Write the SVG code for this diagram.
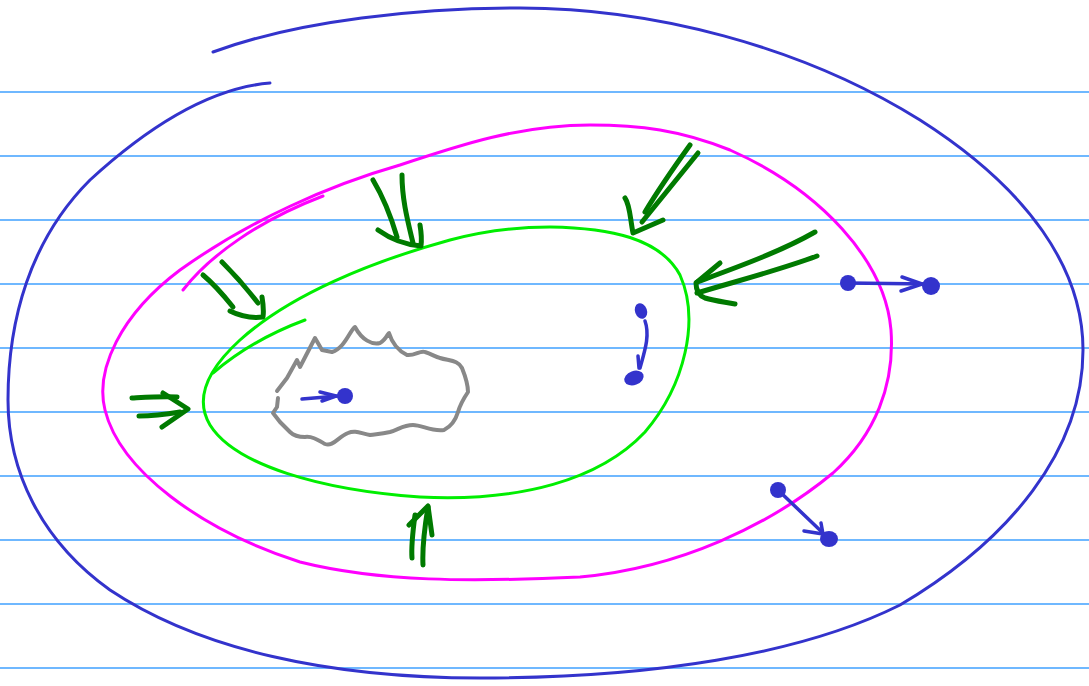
<svg xmlns="http://www.w3.org/2000/svg" width="1089" height="686" viewBox="0 0 1089 686">
  <style>
    .rule { stroke: #3fa0ff; stroke-width: 1.5; }
    .ink { fill: none; stroke-linecap: round; stroke-linejoin: round; }
    .blue { stroke: #3333cc; stroke-width: 3; }
    .mag { stroke: #ff00ff; stroke-width: 3; }
    .lime { stroke: #00ee00; stroke-width: 3; }
    .grey { stroke: #888888; stroke-width: 4; }
    .push { stroke: #007a00; stroke-width: 5; }
    .dot { fill: #3333cc; }
    .flow { stroke: #3333cc; stroke-width: 3.5; }
  </style>
  <rect width="1089" height="686" fill="#ffffff"/>

  <!-- ruled paper -->
  <g id="rules">
    <line class="rule" x1="0" y1="92" x2="1089" y2="92"/>
    <line class="rule" x1="0" y1="156" x2="1089" y2="156"/>
    <line class="rule" x1="0" y1="220" x2="1089" y2="220"/>
    <line class="rule" x1="0" y1="284" x2="1089" y2="284"/>
    <line class="rule" x1="0" y1="348" x2="1089" y2="348"/>
    <line class="rule" x1="0" y1="412" x2="1089" y2="412"/>
    <line class="rule" x1="0" y1="476" x2="1089" y2="476"/>
    <line class="rule" x1="0" y1="540" x2="1089" y2="540"/>
    <line class="rule" x1="0" y1="604" x2="1089" y2="604"/>
    <line class="rule" x1="0" y1="668" x2="1089" y2="668"/>
  </g>

  <!-- outer blue boundary -->
  <g id="outer-boundary">
    <path class="ink blue" d="M213,52 C300,20 420,8 520,8 C650,8 800,45 920,120 C1030,190 1083,270 1083,350 C1083,450 1010,540 900,605 C800,655 650,678 480,678 C330,678 200,650 110,590 C40,540 8,470 8,400 C8,320 30,240 90,180 C150,125 210,88 270,83"/>
  </g>

  <!-- magenta boundary -->
  <g id="middle-boundary">
    <path class="ink mag" d="M183,290 C210,255 260,220 323,196"/>
    <path class="ink mag" d="M400,165 C330,185 250,220 180,270 C120,315 95,370 105,410 C120,470 200,530 300,562 C380,582 470,582 580,577 C680,568 770,525 833,473 C875,435 895,385 891,330 C885,260 820,190 730,150 C680,130 640,125 590,125 C520,125 460,145 400,165"/>
  </g>

  <!-- green boundary -->
  <g id="inner-boundary">
    <path class="ink lime" d="M213,373 C240,350 270,333 305,320"/>
    <path class="ink lime" d="M450,240 C370,262 290,295 240,340 C205,372 195,400 210,425 C235,465 320,490 420,497 C520,502 600,480 645,432 C685,385 700,320 680,275 C660,238 610,228 550,227 C510,227 480,232 450,240"/>
  </g>

  <!-- grey core region -->
  <g id="core">
    <path class="ink grey" d="M277,391 L287,378 L297,360 L300,367 L315,338 L322,350 L332,352 C345,348 350,330 355,327 C362,340 372,345 380,343 C386,340 388,333 389,333 C392,343 397,350 407,355 C415,356 420,350 425,352 C432,354 435,357 440,358 C450,361 458,360 462,368 C466,378 468,388 468,392 C464,398 460,405 458,412 C455,422 450,427 444,430 C432,432 422,425 413,425 C403,425 398,430 390,432 C380,434 376,434 370,435 C360,433 355,430 348,433 C338,437 333,447 325,444 C318,440 312,436 305,437 C298,437 294,436 290,432 L280,422 L273,413 L277,407 L278,398"/>
    <path class="ink flow" d="M302,399 L338,396"/>
    <path class="ink flow" d="M320,392 L336,396 L322,401"/>
    <circle class="dot" cx="345" cy="396" r="8"/>
  </g>

  <!-- inward pressure arrows -->
  <g id="connectors">
    <g id="push-left">
      <path class="ink push" d="M132,398 C150,397 165,396 177,397"/>
      <path class="ink push" d="M139,416 C155,416 168,414 180,412"/>
      <path class="ink push" d="M163,393 L188,409 L162,427"/>
    </g>
    <g id="push-upper-left">
      <path class="ink push" d="M203,275 C215,285 225,297 233,307"/>
      <path class="ink push" d="M222,262 C235,275 248,290 258,303"/>
      <path class="ink push" d="M230,311 C242,317 255,318 263,317 C264,310 263,303 262,297"/>
    </g>
    <g id="push-top">
      <path class="ink push" d="M373,180 C385,200 392,220 397,237"/>
      <path class="ink push" d="M402,175 C402,200 408,222 413,243"/>
      <path class="ink push" d="M378,230 C392,240 408,245 421,246 C422,238 421,231 420,225"/>
    </g>
    <g id="push-top-right">
      <path class="ink push" d="M690,145 C672,170 657,192 645,212"/>
      <path class="ink push" d="M698,153 C680,175 660,200 642,222"/>
      <path class="ink push" d="M625,198 C630,205 630,218 633,233 L663,220"/>
    </g>
    <g id="push-right">
      <path class="ink push" d="M815,232 C780,252 735,268 697,282"/>
      <path class="ink push" d="M817,256 C780,270 740,280 697,293"/>
      <path class="ink push" d="M720,263 L696,283 C696,292 700,296 705,298 C715,301 725,302 735,304"/>
    </g>
    <g id="push-bottom">
      <path class="ink push" d="M412,558 C411,545 413,530 415,515"/>
      <path class="ink push" d="M423,565 C422,545 425,525 428,507"/>
      <path class="ink push" d="M409,525 L428,506 L432,535"/>
    </g>

    <!-- particle motions -->
    <g id="drift-right">
      <path class="ink flow" d="M848,283 L928,284"/>
      <path class="ink flow" d="M902,277 L922,284 L901,291"/>
    </g>
    <g id="drift-down-right">
      <path class="ink flow" d="M778,490 L824,534"/>
      <path class="ink flow" d="M804,531 L823,534 L821,523"/>
    </g>
    <g id="drift-down">
      <path class="ink flow" d="M645,321 C650,335 645,350 640,368"/>
      <path class="ink flow" d="M638,356 L639,368"/>
    </g>
  </g>

  <!-- particles -->
  <g id="particles">
    <circle class="dot" cx="848" cy="283" r="8"/>
    <circle class="dot" cx="931" cy="286" r="9"/>
    <circle class="dot" cx="778" cy="490" r="8"/>
    <ellipse class="dot" cx="829" cy="539" rx="9" ry="8"/>
    <ellipse class="dot" cx="641" cy="311" rx="6" ry="8" transform="rotate(-20 641 311)"/>
    <ellipse class="dot" cx="634" cy="378" rx="10" ry="7" transform="rotate(-20 634 378)"/>
  </g>
</svg>
